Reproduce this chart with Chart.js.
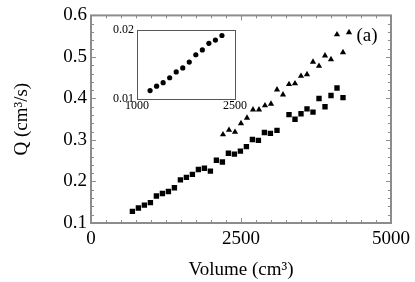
<!DOCTYPE html>
<html><head><meta charset="utf-8">
<script src="https://cdn.jsdelivr.net/npm/chart.js@4"></script>
<style>
html,body{margin:0;padding:0;background:#fff;}
#wrap{position:relative;width:415px;height:282px;overflow:hidden;}
canvas{position:absolute;}
</style>
</head><body>
<div id="wrap">
<canvas id="main" width="415" height="282" style="left:0;top:0"></canvas>
<canvas id="inset" width="160" height="100" style="left:90px;top:20px"></canvas>
</div>
<script>
// ---- data ----
const squareVolume = [690,790,890,990,1090,1190,1290,1390,1490,1590,1690,1790,1890,1990,2090,2190,2290,2390,2490,2590,2690,2790,2890,2990,3100,3300,3400,3500,3600,3700,3800,3900,4000,4100,4200];
const squareQ = [0.128,0.136,0.143,0.149,0.165,0.171,0.176,0.185,0.204,0.210,0.217,0.229,0.232,0.225,0.251,0.247,0.268,0.266,0.273,0.284,0.301,0.299,0.318,0.316,0.323,0.361,0.350,0.363,0.375,0.367,0.400,0.380,0.407,0.425,0.402];
const triangleVolume = [2200,2300,2400,2500,2600,2700,2800,2900,3000,3100,3200,3300,3400,3500,3600,3700,3800,3900,4000,4100,4200,4300];
const triangleQ = [0.313,0.324,0.319,0.340,0.353,0.373,0.373,0.383,0.387,0.421,0.409,0.434,0.436,0.454,0.458,0.488,0.478,0.503,0.494,0.554,0.511,0.559];
const insetVolume = [1200,1300,1400,1500,1600,1700,1800,1900,2000,2100,2200,2300];
const insetQ = [0.01123,0.01186,0.01237,0.01309,0.01394,0.01451,0.01537,0.01643,0.01714,0.01809,0.01857,0.01923];
const xTickLabels = [0,2500,5000];
const yTickLabels = [0.1,0.2,0.3,0.4,0.5,0.6];
const insetXTicks = [1000,2500];
const insetYTicks = [0.01,0.02];
const panelLabel = '(a)';

const FONT = "'Liberation Serif','Times New Roman',serif";
const pts = (xs, ys) => xs.map((v,i)=>({x:v,y:ys[i]}));

const framePlugin = {
  id:'frame',
  afterDatasetsDraw(chart){
    const {ctx, chartArea:a, scales:{x,y}} = chart;
    ctx.save();
    ctx.strokeStyle = '#8c8c8c';
    ctx.lineWidth = 1;
    for (let v = 0; v <= 5000; v += 250) {
      const px = Math.round(x.getPixelForValue(v)) + 0.5;
      const len = (v % 2500 === 0) ? 5 : 3;
      ctx.beginPath();
      ctx.moveTo(px, a.bottom); ctx.lineTo(px, a.bottom - len);
      ctx.moveTo(px, a.top); ctx.lineTo(px, a.top + len);
      ctx.stroke();
    }
    for (let k = 0; k <= 25; k++) {
      const v = 0.1 + k * 0.02;
      const py = Math.round(y.getPixelForValue(v)) + 0.5;
      const len = (k % 5 === 0) ? 5 : 3;
      ctx.beginPath();
      ctx.moveTo(a.left, py); ctx.lineTo(a.left + len, py);
      ctx.moveTo(a.right, py); ctx.lineTo(a.right - len, py);
      ctx.stroke();
    }
    ctx.lineWidth = 2;
    ctx.strokeRect(a.left, a.top, a.right - a.left, a.bottom - a.top);
    ctx.fillStyle = '#000';
    ctx.font = '19px ' + FONT;
    ctx.textAlign = 'center';
    ctx.textBaseline = 'middle';
    ctx.fillText(panelLabel, x.getPixelForValue(4600), y.getPixelForValue(0.55));
    ctx.restore();
  }
};

new Chart(document.getElementById('main'), {
  type:'scatter',
  data:{datasets:[
    {data:pts(squareVolume,squareQ), pointStyle:'rect', pointRadius:3.8, backgroundColor:'#000', borderColor:'#000', borderWidth:0},
    {data:pts(triangleVolume,triangleQ), pointStyle:'triangle', pointRadius:3.6, backgroundColor:'#000', borderColor:'#000', borderWidth:0}
  ]},
  options:{
    responsive:false, animation:false, devicePixelRatio:1,
    layout:{padding:{top:15,right:23,left:0,bottom:0}},
    plugins:{legend:{display:false}, tooltip:{enabled:false}},
    scales:{
      x:{type:'linear', min:0, max:5000,
        afterFit(s){ s.height = 59; },
        afterBuildTicks(s){ s.ticks = xTickLabels.map(v=>({value:v})); },
        grid:{display:false, drawTicks:false}, border:{display:false},
        ticks:{font:{family:FONT,size:19}, color:'#000', padding:5, maxRotation:0, autoSkip:false, callback:v=>String(v)},
        title:{display:true, text:'Volume (cm³)', font:{family:FONT,size:19}, color:'#000', padding:{top:0,bottom:1}}
      },
      y:{type:'linear', min:0.1, max:0.6,
        afterFit(s){ s.width = 91; },
        afterBuildTicks(s){ s.ticks = yTickLabels.map(v=>({value:v})); },
        grid:{display:false, drawTicks:false}, border:{display:false},
        ticks:{font:{family:FONT,size:19}, color:'#000', padding:4, autoSkip:false, callback:v=>v.toFixed(1)},
        title:{display:true, text:'Q (cm³/s)', font:{family:FONT,size:19}, color:'#000', padding:{top:11,bottom:0}}
      }
    }
  },
  plugins:[framePlugin]
});

const insetFrame = {
  id:'insetFrame',
  afterDatasetsDraw(chart){
    const {ctx, chartArea:a} = chart;
    ctx.save();
    ctx.strokeStyle = '#555';
    ctx.lineWidth = 1;
    ctx.strokeRect(Math.round(a.left)+0.5, Math.round(a.top)+0.5, Math.round(a.right-a.left), Math.round(a.bottom-a.top));
    ctx.restore();
  }
};

new Chart(document.getElementById('inset'), {
  type:'scatter',
  data:{datasets:[
    {data:pts(insetVolume,insetQ), pointStyle:'circle', pointRadius:2.6, backgroundColor:'#000', borderColor:'#000', borderWidth:0}
  ]},
  options:{
    responsive:false, animation:false, devicePixelRatio:1,
    layout:{padding:{top:9.5,right:15,left:0,bottom:0}},
    plugins:{legend:{display:false}, tooltip:{enabled:false}},
    scales:{
      x:{type:'linear', min:1000, max:2500,
        afterFit(s){ s.height = 21; },
        afterBuildTicks(s){ s.ticks = insetXTicks.map(v=>({value:v})); },
        grid:{display:false, drawTicks:false}, border:{display:false},
        ticks:{font:{family:FONT,size:12}, color:'#000', padding:0, maxRotation:0, autoSkip:false, callback:v=>String(v)}
      },
      y:{type:'linear', min:0.01, max:0.02,
        afterFit(s){ s.width = 47; },
        afterBuildTicks(s){ s.ticks = insetYTicks.map(v=>({value:v})); },
        grid:{display:false, drawTicks:false}, border:{display:false},
        ticks:{font:{family:FONT,size:12}, color:'#000', padding:3, autoSkip:false, callback:v=>v.toFixed(2)}
      }
    }
  },
  plugins:[insetFrame]
});
</script>
</body></html>
